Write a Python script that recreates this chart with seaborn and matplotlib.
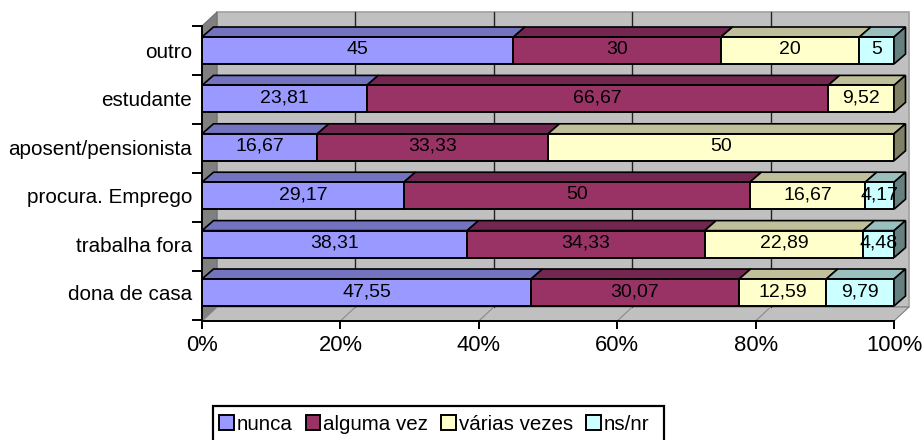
import numpy as np
import matplotlib
matplotlib.use("Agg")
import matplotlib.pyplot as plt
import seaborn as sns
from matplotlib.patches import Polygon, Patch, Rectangle

categories = ["outro", "estudante", "aposent/pensionista", "procura. Emprego", "trabalha fora", "dona de casa"]
series_names = ["nunca", "alguma vez", "várias vezes", "ns/nr"]
nunca = [45, 23.81, 16.67, 29.17, 38.31, 47.55]
alguma_vez = [30, 66.67, 33.33, 50, 34.33, 30.07]
varias_vezes = [20, 9.52, 50, 16.67, 22.89, 12.59]
ns_nr = [5, 0, 0, 4.17, 4.48, 9.79]
labels = [
    ["45", "23,81", "16,67", "29,17", "38,31", "47,55"],
    ["30", "66,67", "33,33", "50", "34,33", "30,07"],
    ["20", "9,52", "50", "16,67", "22,89", "12,59"],
    ["5", "", "", "4,17", "4,48", "9,79"],
]
xticks = [0, 20, 40, 60, 80, 100]
xticklabels = ["0%", "20%", "40%", "60%", "80%", "100%"]
colors = ["#9999FF", "#993366", "#FFFFCC", "#CCFFFF"]
tops = ["#7373BF", "#732650", "#BFBF99", "#99BFBF"]
sides = ["#4D4D80", "#4D1A33", "#808066", "#668080"]

sns.set_theme(style="white")
plt.rcParams["font.family"] = ["Liberation Sans", "DejaVu Sans"]
FS = 14.0
W, H = 922, 440
fig = plt.figure(figsize=(W / 100, H / 100), dpi=100)
L, R, T, B = 202, 894, 26, 321
ax = fig.add_axes([L / W, 1 - B / H, (R - L) / W, (B - T) / H])

step = 48.4
ylim_top = -24.5 / step
ylim_bot = ylim_top + (B - T) / step
px = 100 / (R - L)          # data units per pixel, x
py = 1 / step               # data units per pixel, y
wx, wy = 15 * px, 14 * py   # wall depth
bx, by = 11.5 * px, 10 * py # bar depth
bar_w = 27 / step

# walls and floor
y0, y1 = ylim_bot, ylim_top
ax.add_patch(Polygon([(wx, y0 - wy), (100 + wx, y0 - wy), (100 + wx, y1 - wy), (wx, y1 - wy)],
                     fc="#C0C0C0", ec="#A0A0A0", lw=1.2, clip_on=False, zorder=0))
ax.add_patch(Polygon([(0, y0), (wx, y0 - wy), (wx, y1 - wy), (0, y1)],
                     fc="#808080", ec="#707070", lw=0.8, clip_on=False, zorder=0))
ax.add_patch(Polygon([(0, y0), (100, y0), (100 + wx, y0 - wy), (wx, y0 - wy)],
                     fc="#C0C0C0", ec="#808080", lw=0.8, clip_on=False, zorder=0))
for t in xticks[1:-1]:
    ax.plot([t + wx, t + wx], [y0 - wy, y1 - wy], color="#222222", lw=1.0, clip_on=False, zorder=0.5)
for t in xticks[:-1]:
    ax.plot([t, t + wx], [y0, y0 - wy], color="#8A8A8A", lw=0.8, clip_on=False, zorder=0.5)

# stacked bars
rows = np.arange(len(categories))
left = np.zeros(len(categories))
all_vals = [nunca, alguma_vez, varias_vezes, ns_nr]
for k, vals in enumerate(all_vals):
    vals = np.array(vals, float)
    sns.barplot(x=vals, y=categories, order=categories, orient="h", left=left, color=colors[k],
                saturation=1, width=bar_w, edgecolor="black", linewidth=1.4, ax=ax, zorder=2)
    for i in rows:
        if vals[i] <= 0:
            continue
        a, b = left[i], left[i] + vals[i]
        yt = i - bar_w / 2
        ax.add_patch(Polygon([(a, yt), (b, yt), (b + bx, yt - by), (a + bx, yt - by)],
                             fc=tops[k], ec="black", lw=1.2, clip_on=False, zorder=1.5))
        if k == 3 or all_vals[k + 1][i] == 0:
            yb = i + bar_w / 2
            ax.add_patch(Polygon([(b, yb), (b, yt), (b + bx, yt - by), (b + bx, yb - by)],
                                 fc=sides[k], ec="black", lw=1.2, clip_on=False, zorder=1.5))
        ax.text((a + b) / 2, i - 0.02, labels[k][i], ha="center", va="center",
                fontsize=FS, color="black", zorder=5, clip_on=False)
    left += vals

ax.set_xlim(0, 100)
ax.set_ylim(ylim_bot, ylim_top)
ax.set_xlabel("")
ax.set_ylabel("")
ax.set_xticks(xticks)
ax.set_xticklabels(xticklabels, fontsize=15.8)
ax.set_yticks(rows)
ax.set_yticklabels(categories, fontsize=14.9)
ax.tick_params(axis="y", length=0, pad=7, colors="black")
ax.tick_params(axis="x", length=6, width=1.4, pad=4, bottom=True, colors="black")
minor = [ylim_top + n * 49.0 / step for n in range(7)]
ax.set_yticks(minor, minor=True)
ax.tick_params(axis="y", which="minor", length=7, width=1.4, left=True, color="black")
for s in ["top", "right"]:
    ax.spines[s].set_visible(False)
for s in ["left", "bottom"]:
    ax.spines[s].set_color("black")
    ax.spines[s].set_linewidth(1.4)
    ax.spines[s].set_zorder(4)
ax.patch.set_alpha(0)

# legend box runs off the bottom edge of the picture, as in the reference
fig.add_artist(Rectangle((213 / W, 1 - 446 / H), 451 / W, 40 / H, transform=fig.transFigure,
                         fc="white", ec="black", lw=1.6, zorder=3))
handles = [Patch(fc=c, ec="black", lw=1.4) for c in colors]
leg = fig.legend(handles, series_names, ncol=4, loc="center left", bbox_to_anchor=(219 / W, 1 - 424 / H),
                 fontsize=14.8, frameon=False, labelcolor="black",
                 handlelength=0.72, handleheight=0.72, handletextpad=0.15, columnspacing=0.62,
                 borderpad=0, borderaxespad=0)
leg.set_zorder(4)

fig.savefig("out.png", dpi=100)
